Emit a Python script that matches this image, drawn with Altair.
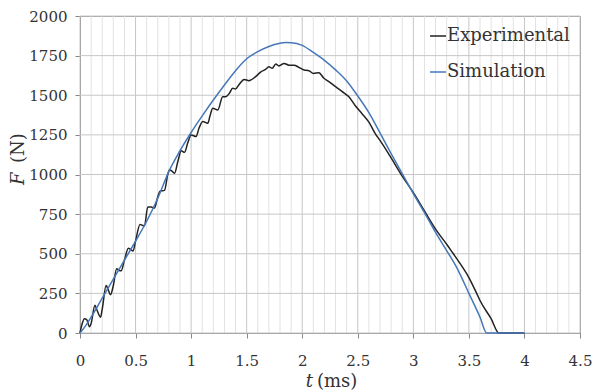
import altair as alt
import pandas as pd

# ---- data ----
t_exp = [0.0, 0.02, 0.04, 0.06, 0.085, 0.1, 0.134, 0.15, 0.185, 0.2, 0.235, 0.25, 0.275, 0.3,
         0.33, 0.35, 0.37, 0.4, 0.435, 0.45, 0.478, 0.5, 0.54, 0.56, 0.58, 0.61, 0.64, 0.67, 0.7,
         0.72, 0.76, 0.79, 0.806, 0.83, 0.851, 0.88, 0.911, 0.941, 0.97, 1.0, 1.045, 1.07, 1.105,
         1.15, 1.17, 1.195, 1.24, 1.284, 1.31, 1.344, 1.374, 1.4, 1.434, 1.478, 1.52, 1.58, 1.628,
         1.67, 1.7, 1.73, 1.762, 1.79, 1.837, 1.88, 1.926, 1.97, 2.016, 2.06, 2.1, 2.15, 2.195,
         2.24, 2.3, 2.36, 2.42, 2.48, 2.54, 2.6, 2.66, 2.7, 2.8, 2.9, 3.0, 3.1, 3.2, 3.3, 3.36,
         3.4, 3.5, 3.57, 3.6, 3.7, 3.77, 4.0]
f_exp = [0, 60, 90, 85, 40, 60, 175, 150, 100, 150, 300, 280, 242, 300,
         405, 395, 392, 460, 535, 530, 518, 580, 685, 680, 675, 795, 795, 788, 860,
         895, 900, 1000, 1030, 1020, 1008, 1080, 1150, 1140, 1200, 1250, 1239, 1290, 1334,
         1323, 1370, 1418, 1407, 1491, 1490, 1512, 1544, 1540, 1570, 1600, 1592, 1617, 1648,
         1663, 1680, 1670, 1697, 1685, 1701, 1690, 1690, 1676, 1659, 1655, 1638, 1642, 1607,
         1586, 1554, 1523, 1490, 1432, 1382, 1330, 1255, 1215, 1105, 990, 885, 770, 655, 560, 500,
         460, 350, 250, 205, 90, 0, 0]

t_sim = [0.0, 0.05, 0.1, 0.2, 0.3, 0.4, 0.5, 0.6, 0.7, 0.8, 0.9, 1.0, 1.1, 1.2, 1.3, 1.4, 1.5,
         1.6, 1.7, 1.8, 1.85, 1.9, 2.0, 2.1, 2.2, 2.3, 2.4, 2.5, 2.6, 2.7, 2.8, 2.9, 3.0, 3.1,
         3.2, 3.3, 3.4, 3.5, 3.6, 3.66, 4.0]
f_sim = [0, 45, 100, 220, 340, 460, 580, 705, 850, 1020, 1150, 1265, 1370, 1470, 1565, 1655, 1730,
         1775, 1808, 1828, 1833, 1832, 1815, 1770, 1720, 1660, 1590, 1495, 1390, 1262, 1132, 1005, 880, 760,
         635, 520, 400, 250, 100, 0, 0]

series_names = ["Experimental", "Simulation"]
series_colors = ["#222222", "#4677b8"]

x_ticks = [0, 0.5, 1, 1.5, 2, 2.5, 3, 3.5, 4, 4.5]
y_ticks = [0, 250, 500, 750, 1000, 1250, 1500, 1750, 2000]
x_minor = [round(i * 0.1, 1) for i in range(46) if i % 5 != 0]

df = pd.concat([
    pd.DataFrame({"t": t_exp, "F": f_exp, "series": "Experimental"}),
    pd.DataFrame({"t": t_sim, "F": f_sim, "series": "Simulation"}),
])

FONT = "DejaVu Serif"
xscale = alt.Scale(domain=[0, 4.5], nice=False, zero=False)
yscale = alt.Scale(domain=[0, 2000], nice=False)

x_axis = alt.Axis(values=x_ticks, title=None, grid=False, tickSize=5, labelPadding=15, format="~g",
                  labelFont=FONT, labelFontSize=15, labelColor="#333333",
                  domainColor="#888888", tickColor="#888888", labelFlush=False)
y_axis = alt.Axis(values=y_ticks, title=None, grid=False, tickSize=5, labelPadding=8, format="d",
                  labelFont=FONT, labelFontSize=15, labelColor="#333333",
                  domainColor="#888888", tickColor="#888888", labelFlush=False)

minor_v = alt.Chart(pd.DataFrame({"t": x_minor})).mark_rule(color="#e2e2e2", strokeWidth=1).encode(
    x=alt.X("t:Q", scale=xscale, axis=x_axis))
major_v = alt.Chart(pd.DataFrame({"t": x_ticks})).mark_rule(color="#c6c6c6", strokeWidth=1).encode(
    x=alt.X("t:Q", scale=xscale, axis=x_axis))
major_h = alt.Chart(pd.DataFrame({"F": y_ticks})).mark_rule(color="#c6c6c6", strokeWidth=1).encode(
    y=alt.Y("F:Q", scale=yscale, axis=y_axis))

lines = alt.Chart(df).mark_line(strokeWidth=1.5, interpolate="monotone").encode(
    x=alt.X("t:Q", scale=xscale, axis=x_axis),
    y=alt.Y("F:Q", scale=yscale, axis=y_axis),
    color=alt.Color("series:N", scale=alt.Scale(domain=series_names, range=series_colors),
                    legend=alt.Legend(title=None, orient="none", legendX=349, legendY=11,
                                      symbolType="stroke", symbolSize=256, symbolStrokeWidth=1.5,
                                      labelFont=FONT, labelFontSize=18, labelColor="#333333",
                                      labelOffset=0, rowPadding=18, padding=0)),
)

def label(txt, x, y, style="normal", align="left", angle=0):
    return alt.Chart(pd.DataFrame({"s": [txt]})).mark_text(
        font=FONT, fontSize=18, fontStyle=style, align=align, baseline="middle",
        angle=angle, color="#333333").encode(x=alt.value(x), y=alt.value(y), text="s:N")

titles = [
    label("F", -61, 169, style="italic", angle=270),
    label("(N)", -61, 147, angle=270),
    label("t", 233, 366, style="italic", align="right"),
    label("(ms)", 237, 366),
]

chart = alt.layer(minor_v, major_v, major_h, lines, *titles).properties(
    width=500, height=317,
    autosize=alt.AutoSizeParams(type="none"),
    padding={"left": 72, "top": 8, "right": 12, "bottom": 58},
).configure_view(stroke="#999999", strokeWidth=1)

chart.save("out.html", embed_options={"renderer": "svg", "actions": False})
